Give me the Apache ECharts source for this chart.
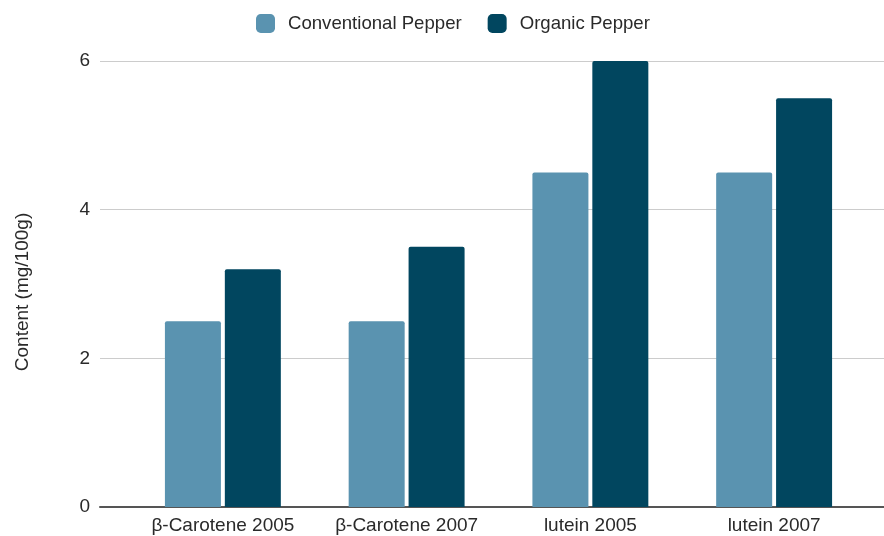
<!DOCTYPE html>
<html>
<head>
<meta charset="utf-8">
<script src="https://cdn.jsdelivr.net/npm/echarts@6/dist/echarts.min.js"></script>
<style>html,body{margin:0;padding:0;background:#fff}#c{width:884px;height:536px}</style>
</head>
<body>
<div id="c"></div>
<script>
const categories = ['β-Carotene 2005', 'β-Carotene 2007', 'lutein 2005', 'lutein 2007'];
const conventional = [2.5, 2.5, 4.5, 4.5];
const organic = [3.2, 3.5, 6.0, 5.5];
const yTicks = { min: 0, max: 6, interval: 2 };

const chart = echarts.init(document.getElementById('c'));
const font = '"Liberation Sans", Arial, sans-serif';
const textColor = '#2a2a2a';

chart.setOption({
  animation: false,
  textStyle: { fontFamily: font },
  legend: {
    top: 9,
    left: 251,
    itemWidth: 19,
    itemHeight: 19,
    itemGap: 26,
    icon: 'roundRect',
    textStyle: { fontSize: 18.6, color: textColor, fontFamily: font, padding: [0, 0, 0, 8] },
    data: ['Conventional Pepper', 'Organic Pepper']
  },
  // outer grid carries the gridlines and baseline; inner grid carries the bars
  grid: [
    { left: 100, right: 0, top: 61, bottom: 29 },
    { left: 131, right: 18, top: 61, bottom: 29 }
  ],
  xAxis: [
    {
      gridIndex: 0,
      type: 'category',
      data: [''],
      axisLine: { lineStyle: { color: '#555', width: 2 } },
      axisTick: { show: false },
      axisLabel: { show: false }
    },
    {
      gridIndex: 1,
      type: 'category',
      data: categories,
      axisLine: { show: false },
      axisTick: { show: false },
      axisLabel: { interval: 0, hideOverlap: false, fontSize: 19, color: textColor, fontFamily: font, margin: 9 }
    }
  ],
  yAxis: [
    {
      gridIndex: 0,
      type: 'value',
      min: yTicks.min, max: yTicks.max, interval: yTicks.interval,
      name: 'Content (mg/100g)',
      nameLocation: 'middle',
      nameGap: 68,
      nameTextStyle: { fontSize: 19, color: textColor, fontFamily: font, padding: [0, 16, 0, 0] },
      axisLine: { show: false },
      axisTick: { show: false },
      axisLabel: { fontSize: 19, color: textColor, fontFamily: font, margin: 10 },
      splitLine: { lineStyle: { color: '#cccccc', width: 1 } }
    },
    {
      gridIndex: 1,
      type: 'value',
      min: yTicks.min, max: yTicks.max, interval: yTicks.interval,
      show: false,
      splitLine: { show: false }
    }
  ],
  series: [
    {
      name: 'Conventional Pepper', type: 'bar', data: conventional,
      xAxisIndex: 1, yAxisIndex: 1,
      barWidth: 56, barGap: '7%', z: 3,
      itemStyle: { color: '#5a93b0', borderRadius: [2, 2, 0, 0] }
    },
    {
      name: 'Organic Pepper', type: 'bar', data: organic,
      xAxisIndex: 1, yAxisIndex: 1,
      barWidth: 56, z: 3,
      itemStyle: { color: '#01465f', borderRadius: [2, 2, 0, 0] }
    }
  ]
});
</script>
</body>
</html>
